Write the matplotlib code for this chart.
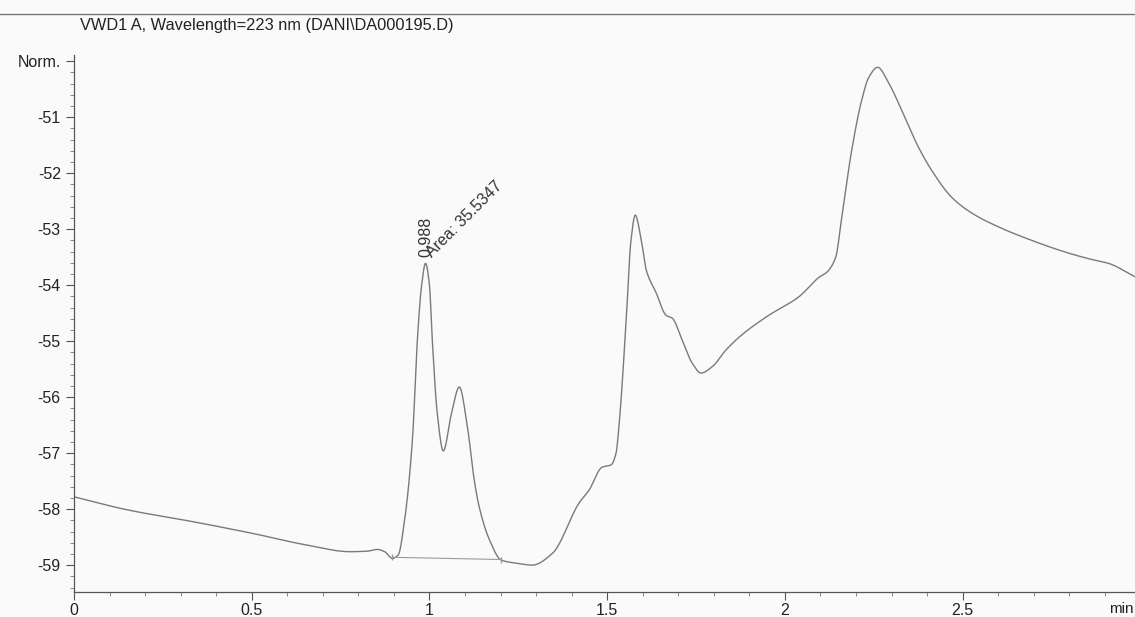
import matplotlib.pyplot as plt
import numpy as np

plt.rcParams['font.family'] = ['Liberation Sans', 'DejaVu Sans']

# retention time (min) and signal (Norm.)
time_min = [0.0, 0.148, 0.331, 0.5, 0.654, 0.777, 0.826, 0.853, 0.874, 0.896,
            0.912, 0.930, 0.952, 0.966, 0.978, 0.989, 1.0, 1.008, 1.022, 1.039,
            1.062, 1.084, 1.107, 1.126, 1.140, 1.169, 1.202, 1.25, 1.289,
            1.346, 1.421, 1.449, 1.486, 1.511, 1.525, 1.534, 1.553, 1.567,
            1.579, 1.596, 1.610, 1.638, 1.666, 1.683, 1.711, 1.739, 1.764,
            1.795, 1.834, 1.871, 1.947, 2.039, 2.096, 2.118, 2.143, 2.160,
            2.188, 2.216, 2.236, 2.261, 2.292, 2.329, 2.376, 2.413, 2.469,
            2.525, 2.601, 2.694, 2.789, 2.862, 2.910, 2.985]
signal = [-57.78, -58.01, -58.22, -58.43, -58.64, -58.76, -58.75, -58.72,
          -58.76, -58.88, -58.82, -58.2, -56.77, -54.98, -54.00, -53.61,
          -54.00, -54.98, -56.29, -56.96, -56.29, -55.82, -56.54, -57.48,
          -57.96, -58.55, -58.91, -58.97, -59.0, -58.79, -57.89, -57.66,
          -57.25, -57.21, -57.0, -56.46, -54.68, -53.20, -52.75, -53.20,
          -53.73, -54.14, -54.54, -54.59, -54.98, -55.39, -55.57, -55.46,
          -55.16, -54.93, -54.57, -54.21, -53.86, -53.77, -53.5, -52.79,
          -51.59, -50.70, -50.29, -50.11, -50.39, -50.88, -51.54, -51.95,
          -52.43, -52.71, -52.96, -53.20, -53.41, -53.54, -53.61, -53.85]

# integration baseline of the labelled peak
base_t = [0.896, 1.202]
base_y = [-58.86, -58.90]

peak_rt = 0.988
peak_area = 35.5347

y_ticks = [-51, -52, -53, -54, -55, -56, -57, -58, -59]
x_ticks = [0, 0.5, 1, 1.5, 2, 2.5]


def pchip(x, y, xn):
    # monotone cubic through the read points, keeps the peak tops
    x = np.asarray(x, float)
    y = np.asarray(y, float)
    h = np.diff(x)
    d = np.diff(y) / h
    m = np.zeros_like(y)
    m[0], m[-1] = d[0], d[-1]
    for k in range(1, len(x) - 1):
        if d[k - 1] * d[k] > 0:
            w1 = 2 * h[k] + h[k - 1]
            w2 = h[k] + 2 * h[k - 1]
            m[k] = (w1 + w2) / (w1 / d[k - 1] + w2 / d[k])
    i = np.clip(np.searchsorted(x, xn) - 1, 0, len(x) - 2)
    u = (xn - x[i]) / h[i]
    h00 = 2 * u**3 - 3 * u**2 + 1
    h10 = u**3 - 2 * u**2 + u
    h01 = -2 * u**3 + 3 * u**2
    h11 = u**3 - u**2
    return h00 * y[i] + h10 * h[i] * m[i] + h01 * y[i + 1] + h11 * h[i] * m[i + 1]


fig = plt.figure(figsize=(11.35, 6.17), dpi=100, facecolor='#fbfafb')
ax = fig.add_axes([0.0652, 0.0405, 0.9348, 0.8704])
ax.set_facecolor('#fbfafb')

tt = np.linspace(time_min[0], time_min[-1], 3000)
ax.plot(tt, pchip(time_min, signal, tt), color='#7a7a7a', lw=1.0)

ax.plot(base_t, base_y, color='#9a9a9a', lw=0.8, marker='|', ms=5)

ax.text(peak_rt + 0.002, -53.5, '{:.3f}'.format(peak_rt), rotation=90,
        ha='center', va='bottom', fontsize=11.5, color='#333333')
ax.text(1.012, -53.55, 'Area: {}'.format(peak_area), rotation=45,
        ha='left', va='bottom', fontsize=11.5, color='#333333',
        rotation_mode='anchor')

ax.set_xlim(0, 2.985)
ax.set_ylim(-59.48, -49.89)
ax.set_xticks(x_ticks)
ax.set_xticklabels(['0', '0.5', '1', '1.5', '2', '2.5'])
ax.set_xticks(np.arange(0, 3.0, 0.1), minor=True)
ax.set_yticks(y_ticks + [-50])
ax.set_yticklabels([str(v) for v in y_ticks] + ['Norm.'])
ax.set_yticks(np.arange(-59.4, -49.9, 0.2), minor=True)

for side in ('top', 'right'):
    ax.spines[side].set_visible(False)
for side in ('left', 'bottom'):
    ax.spines[side].set_color('#555555')
    ax.spines[side].set_linewidth(0.9)
ax.tick_params(which='major', length=6, width=0.8, color='#555555',
               labelsize=11.5, labelcolor='#222222')
ax.tick_params(axis='x', which='major', pad=2)
ax.tick_params(which='minor', length=3, width=0.6, color='#777777')

ax.text(0.999, -0.018, 'min', transform=ax.transAxes, ha='right', va='top',
        fontsize=11, color='#222222')

fig.text(0.0705, 0.959, 'VWD1 A, Wavelength=223 nm (DANI\\DA000195.D)',
         ha='left', va='center', fontsize=11.75, color='#222222')
fig.add_artist(plt.Line2D([0, 1], [0.977, 0.977], color='#777777', lw=1.0))

fig.savefig('out.png', dpi=100, facecolor=fig.get_facecolor())
